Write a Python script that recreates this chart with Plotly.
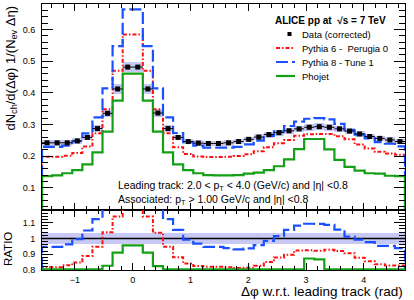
import numpy as np
import plotly.graph_objects as go

# ---------------- data ----------------
n_bins = 36
phi_min = -np.pi / 2
phi_max = 3 * np.pi / 2

data_vals = [0.242, 0.242, 0.242, 0.248, 0.259, 0.287, 0.335, 0.412, 0.481, 0.481,
             0.412, 0.336, 0.287, 0.259, 0.246, 0.241, 0.240, 0.240, 0.242, 0.246,
             0.253, 0.260, 0.268, 0.274, 0.280, 0.286, 0.291, 0.293, 0.291, 0.286,
             0.279, 0.270, 0.262, 0.256, 0.251, 0.246]
pythia6_vals = [0.198, 0.198, 0.201, 0.210, 0.230, 0.272, 0.348, 0.469, 0.584, 0.584,
                0.469, 0.348, 0.272, 0.228, 0.207, 0.199, 0.197, 0.197, 0.198, 0.200,
                0.206, 0.215, 0.228, 0.241, 0.251, 0.264, 0.269, 0.270, 0.270, 0.263,
                0.253, 0.237, 0.224, 0.214, 0.208, 0.204]
pythia8_vals = [0.229, 0.229, 0.233, 0.247, 0.272, 0.322, 0.414, 0.547, 0.663, 0.663,
                0.547, 0.414, 0.322, 0.273, 0.244, 0.233, 0.227, 0.227, 0.227, 0.229,
                0.237, 0.249, 0.264, 0.278, 0.295, 0.309, 0.318, 0.320, 0.316, 0.302,
                0.282, 0.268, 0.256, 0.244, 0.239, 0.231]
phojet_vals = [0.137, 0.139, 0.146, 0.156, 0.174, 0.212, 0.277, 0.375, 0.460, 0.460,
               0.375, 0.277, 0.212, 0.174, 0.156, 0.146, 0.140, 0.139, 0.139, 0.140,
               0.145, 0.148, 0.156, 0.168, 0.190, 0.222, 0.254, 0.254, 0.221, 0.188,
               0.166, 0.154, 0.146, 0.145, 0.138, 0.137]
sys_rel = 0.035          # relative systematic band of the data
stat_err = 0.003

x_tick_vals = [-1, 0, 1, 2, 3, 4]
y_tick_vals = [0.1, 0.2, 0.3, 0.4, 0.5, 0.6]
ratio_tick_vals = [0.8, 0.9, 1.0, 1.1]
top_range = [0.03, 0.68]
ratio_range = [0.8, 1.18]

legend_header = "ALICE pp at  √s = 7 TeV"
legend_labels = ["Data (corrected)", "Pythia 6 -  Perugia 0", "Pythia 8 - Tune 1", "Phojet"]
text_line1 = "Leading track: 2.0 < p<sub>T</sub> < 4.0 (GeV/c) and |η| <0.8"
text_line2 = "Associated: p<sub>T</sub> > 1.00 GeV/c and |η| <0.8"
x_title = "Δφ w.r.t. leading track (rad)"
y_title = "dN<sub>ch</sub>/d(Δφ) 1/(N<sub>ev</sub> Δη)"
ratio_title = "RATIO"

# ---------------- derived ----------------
edges = np.linspace(phi_min, phi_max, n_bins + 1)
centers = 0.5 * (edges[:-1] + edges[1:])
bw = edges[1] - edges[0]
data = np.array(data_vals)
models = {
    "p6": np.array(pythia6_vals),
    "p8": np.array(pythia8_vals),
    "ph": np.array(phojet_vals),
}
styles = {
    "p6": dict(color="#ff1010", width=2, dash="4px,2px,1.5px,2px"),
    "p8": dict(color="#1a50ff", width=2.2, dash="12px,4px"),
    "ph": dict(color="#14a014", width=2.2, dash="solid"),
}
FONT = "Liberation Sans, Arial, sans-serif"
BAND = "#c8c8f4"


def step_xy(vals, base):
    xs = [edges[0]] + list(edges[:-1]) + [edges[-1], edges[-1]]
    ys = [base] + list(vals) + [vals[-1], base]
    return xs, ys


fig = go.Figure()

# systematic band (top)
fig.add_trace(go.Bar(x=centers, y=2 * sys_rel * data, base=data * (1 - sys_rel), width=bw,
                     marker=dict(color=BAND, line=dict(width=0)), xaxis="x", yaxis="y",
                     hoverinfo="skip"))
for k in ["p6", "p8", "ph"]:
    xs, ys = step_xy(models[k], top_range[0])
    fig.add_trace(go.Scatter(x=xs, y=ys, mode="lines", line=dict(shape="hv", **styles[k]),
                             xaxis="x", yaxis="y"))
fig.add_trace(go.Scatter(x=centers, y=data, mode="markers",
                         marker=dict(symbol="square", size=5, color="black"),
                         error_x=dict(type="constant", value=bw / 2, width=0, thickness=1, color="black"),
                         error_y=dict(type="constant", value=stat_err, width=0, thickness=1, color="black"),
                         xaxis="x", yaxis="y"))

# ratio panel
fig.add_trace(go.Bar(x=centers, y=[2 * sys_rel] * n_bins, base=[1 - sys_rel] * n_bins, width=bw,
                     marker=dict(color=BAND, line=dict(width=0)), xaxis="x2", yaxis="y2",
                     hoverinfo="skip"))
fig.add_trace(go.Scatter(x=[edges[0], edges[-1]], y=[1, 1], mode="lines",
                         line=dict(color="black", width=1.5), xaxis="x2", yaxis="y2"))
r_floor = ratio_range[0] + 0.004
for k in ["p6", "p8", "ph"]:
    ratio = np.maximum(models[k] / data, r_floor)
    xs, ys = step_xy(ratio, r_floor)
    fig.add_trace(go.Scatter(x=xs, y=ys, mode="lines", line=dict(shape="hv", **styles[k]),
                             xaxis="x2", yaxis="y2"))

# ---------------- layout ----------------
W, H = 414, 300
L, R, T, B = 42, 9, 4, 30
plot_w = W - L - R
plot_h = H - T - B
split = 60 / plot_h


def px(xp):
    return (xp - L) / plot_w


def py(yp):
    return (H - B - yp) / plot_h


axis_common = dict(showgrid=False, zeroline=False, showline=True, linecolor="black", linewidth=1,
                   ticks="inside", tickcolor="black", mirror="ticks", automargin=False,
                   tickfont=dict(family=FONT, size=9, color="black"))

fig.update_layout(
    template="none",
    width=W, height=H, margin=dict(l=L, r=R, t=T, b=B, autoexpand=False),
    paper_bgcolor="white", plot_bgcolor="white", showlegend=False,
    bargap=0, barmode="overlay",
    xaxis=dict(domain=[0, 1], anchor="y", range=[phi_min, phi_max], tickvals=x_tick_vals,
               showticklabels=False, ticklen=7, tickwidth=1,
               minor=dict(dtick=0.2, ticklen=4, ticks="inside", tickcolor="black", showgrid=False),
               **axis_common),
    yaxis=dict(domain=[split, 1], anchor="x", range=top_range, tickvals=y_tick_vals,
               ticktext=[f"{v:.1f}" for v in y_tick_vals], ticklen=11, tickwidth=1,
               ticklabelstandoff=4,
               minor=dict(dtick=0.02, tick0=0, ticklen=6, ticks="inside", tickcolor="black", showgrid=False),
               **axis_common),
    xaxis2=dict(domain=[0, 1], anchor="y2", range=[phi_min, phi_max], tickvals=x_tick_vals,
                ticklen=7, tickwidth=1, ticklabelstandoff=1,
                minor=dict(dtick=0.2, ticklen=4, ticks="inside", tickcolor="black", showgrid=False),
                **axis_common),
    yaxis2=dict(domain=[0, split], anchor="x2", range=ratio_range, tickvals=ratio_tick_vals,
                ticktext=["0.8", "0.9", "1", "1.1"], ticklen=11, tickwidth=1,
                ticklabelstandoff=4,
                minor=dict(dtick=0.02, tick0=0, ticklen=6, ticks="inside", tickcolor="black", showgrid=False),
                **axis_common),
)

ann = []
# axis titles
ann.append(dict(text=y_title, x=px(11), y=py(4), xref="paper", yref="paper", textangle=-90,
                xanchor="center", yanchor="top", showarrow=False,
                font=dict(family=FONT, size=13, color="black")))
ann.append(dict(text=ratio_title, x=px(8), y=py(249), xref="paper", yref="paper", textangle=-90,
                xanchor="center", yanchor="middle", showarrow=False,
                font=dict(family=FONT, size=11.5, color="black")))
ann.append(dict(text=x_title, x=px(405), y=py(291), xref="paper", yref="paper",
                xanchor="right", yanchor="middle", showarrow=False,
                font=dict(family=FONT, size=13.5, color="black")))
# info text
ann.append(dict(text=text_line1, x=px(116), y=py(186), xref="paper", yref="paper",
                xanchor="left", yanchor="middle", showarrow=False,
                font=dict(family=FONT, size=10.5, color="black")))
ann.append(dict(text=text_line2, x=px(116), y=py(200), xref="paper", yref="paper",
                xanchor="left", yanchor="middle", showarrow=False,
                font=dict(family=FONT, size=10.5, color="black")))
# legend
ann.append(dict(text="<b>" + legend_header + "</b>", x=px(273), y=py(20), xref="paper", yref="paper",
                xanchor="left", yanchor="middle", showarrow=False,
                font=dict(family=FONT, size=10, color="black")))
rows = [34, 48, 62, 76]
for lab, yr in zip(legend_labels, rows):
    ann.append(dict(text=lab, x=px(300), y=py(yr), xref="paper", yref="paper",
                    xanchor="left", yanchor="middle", showarrow=False,
                    font=dict(family=FONT, size=9.5, color="black")))

shapes = []
# data marker sample
shapes.append(dict(type="rect", xref="paper", yref="paper",
                   x0=px(287.5), x1=px(291.5), y0=py(rows[0] + 2), y1=py(rows[0] - 2),
                   fillcolor="black", line=dict(width=0)))
for k, yr in zip(["p6", "p8", "ph"], rows[1:]):
    st = styles[k]
    shapes.append(dict(type="line", xref="paper", yref="paper", x0=px(276), x1=px(295),
                       y0=py(yr), y1=py(yr),
                       line=dict(color=st["color"], width=st["width"], dash=st["dash"])))

fig.update_layout(annotations=ann, shapes=shapes)
fig.write_html("out.html", config={"displayModeBar": False},
               post_script="document.body.style.margin='0';document.body.style.overflow='hidden';")
